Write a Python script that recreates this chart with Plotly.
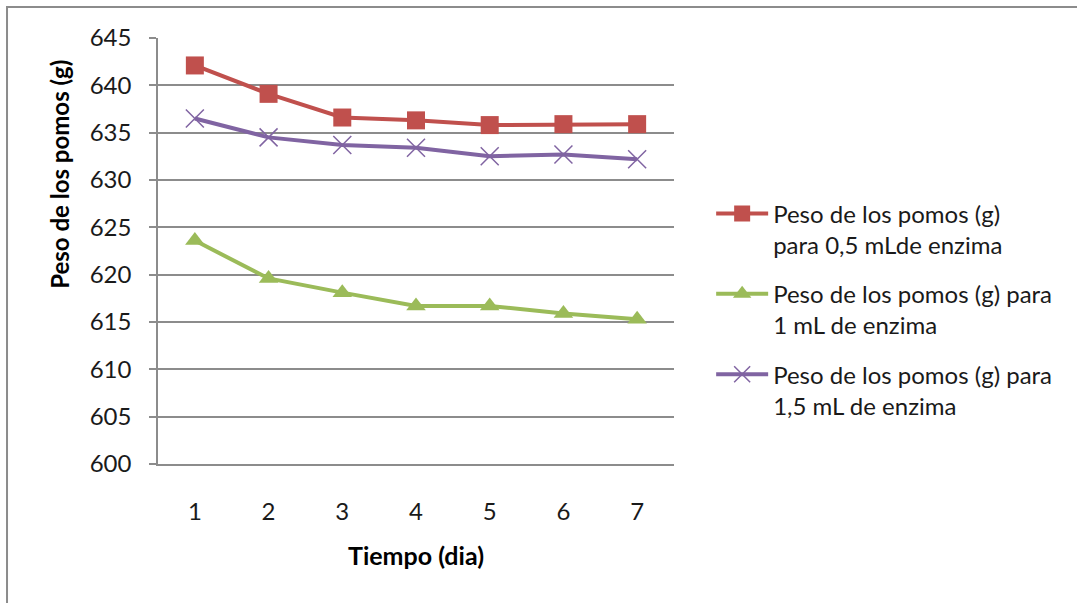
import plotly.graph_objects as go

dias = [1, 2, 3, 4, 5, 6, 7]
peso_05 = [642.1, 639.1, 636.6, 636.3, 635.8, 635.9, 635.9]
peso_10 = [623.6, 619.6, 618.1, 616.7, 616.7, 615.9, 615.3]
peso_15 = [636.5, 634.5, 633.7, 633.4, 632.5, 632.7, 632.2]
nombres = ["Peso de los pomos (g)<br>para 0,5 mLde enzima",
           "Peso de los pomos (g) para<br>1 mL de enzima",
           "Peso de los pomos (g) para<br>1,5 mL de enzima"]
y_ticks = [600, 605, 610, 615, 620, 625, 630, 635, 640, 645]

FONT = "Lato"
fig = go.Figure()
fig.add_trace(go.Scatter(x=dias, y=peso_05, name=nombres[0], mode="lines+markers",
                         line=dict(color="#C0504D", width=4), legendgroup="a",
                         marker=dict(symbol="square", size=18, color="#C0504D")))
fig.add_trace(go.Scatter(x=dias, y=peso_10, name=nombres[1], mode="lines+markers",
                         line=dict(color="#9BBB59", width=4), legendgroup="b",
                         marker=dict(symbol="triangle-up", size=17, color="#9BBB59")))
fig.add_trace(go.Scatter(x=dias, y=peso_15, name=nombres[2], mode="lines+markers",
                         line=dict(color="#8064A2", width=4), legendgroup="c",
                         marker=dict(symbol="x-thin-open", size=18,
                                     line=dict(color="#B3A2D3", width=1.5))))

fig.update_layout(
    width=1077, height=603,
    margin=dict(l=158, r=403, t=38, b=139),
    paper_bgcolor="white", plot_bgcolor="white",
    font=dict(family=FONT, size=24, color="#1a1a1a"),
    showlegend=True,
    legend=dict(x=1.072, y=0.64, xanchor="left", yanchor="top",
                font=dict(size=24, family=FONT, color="#1a1a1a"), tracegroupgap=15,
                itemwidth=52, valign="top", bgcolor="rgba(0,0,0,0)"),
    xaxis=dict(range=[0.5, 7.5], tickmode="array", tickvals=dias,
               ticktext=[str(d) for d in dias], showgrid=False,
               showline=True, linecolor="#8c8c8c", linewidth=1.5,
               ticks="", ticklabelstandoff=25, zeroline=False,
               title=dict(text="<b>Tiempo (dia)</b>", standoff=24,
                          font=dict(size=25, family=FONT, color="black"))),
    yaxis=dict(range=[600, 645], tickmode="array", tickvals=y_ticks,
               showgrid=True, gridcolor="#8c8c8c", gridwidth=1.5,
               showline=True, linecolor="#8c8c8c", linewidth=1.5,
               ticks="outside", ticklen=7, tickcolor="#8c8c8c", tickwidth=1.5,
               ticklabelstandoff=13, zeroline=False),
    annotations=[dict(text="<b>Peso de los pomos (g)</b>", textangle=-90,
                      xref="paper", yref="paper", x=-0.19, y=0.681,
                      xanchor="center", yanchor="middle", showarrow=False,
                      font=dict(size=24, family=FONT, color="black"))],
    shapes=[dict(type="rect", xref="paper", yref="paper",
                 x0=-0.2926, x1=2.0, y0=-0.6, y1=1.0728,
                 line=dict(color="#8c8c8c", width=2))],
)
fig.write_html("out.html")
